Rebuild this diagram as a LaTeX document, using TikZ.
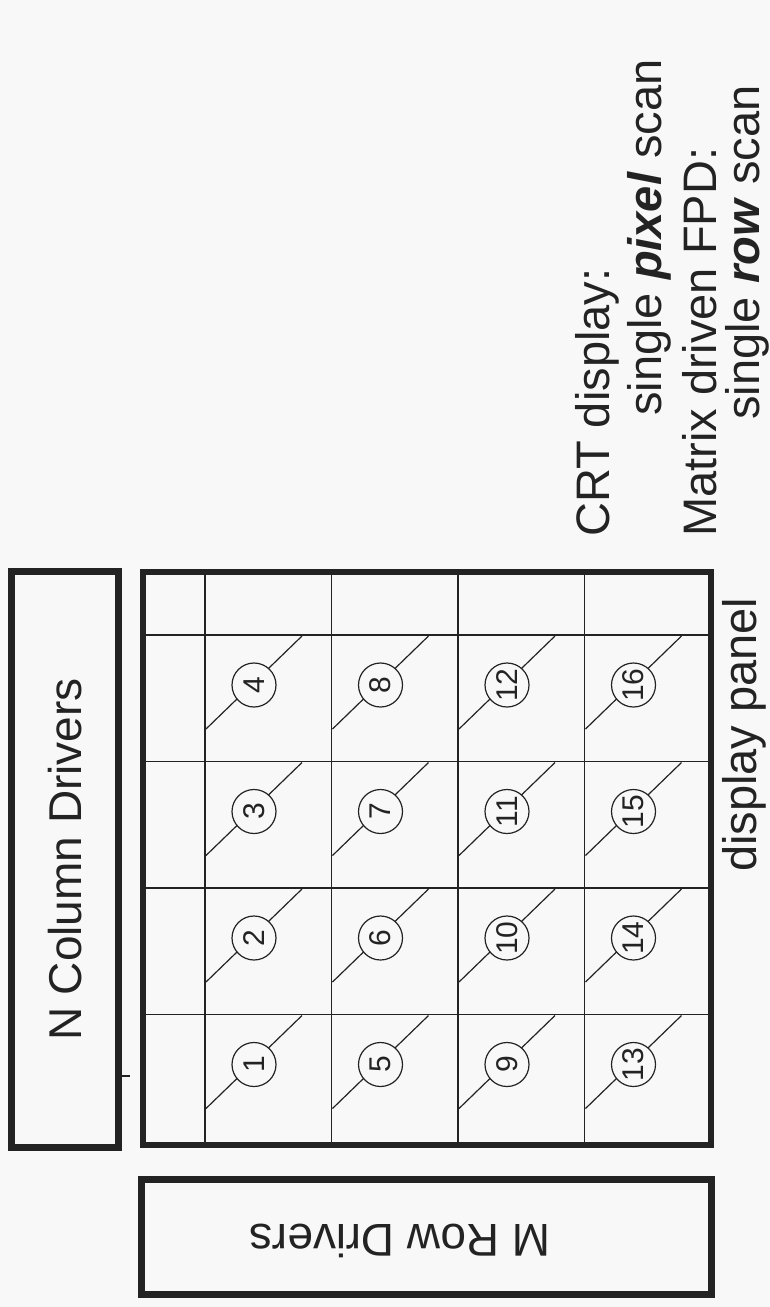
\documentclass[tikz,border=0pt]{standalone}
\usepackage{fontspec}
\setmainfont{Liberation Sans}
\definecolor{bg}{RGB}{248,248,249}
\definecolor{ink}{RGB}{35,35,35}
\begin{document}
\begin{tikzpicture}[x=1pt,y=-1pt,
  thickbox/.style={draw=ink,line width=6.8pt,inner sep=0pt},
  gridline/.style={draw=ink,line width=1.2pt},
  lbl/.style={font=\fontsize{46}{55}\selectfont,text=ink,inner sep=0pt},
  rlbl/.style={font=\fontsize{47}{56}\selectfont,text=ink,inner sep=0pt,rotate=90,anchor=base west},
  num/.style={circle,draw=ink,line width=1.2pt,fill=bg,minimum size=44pt,inner sep=0pt,font=\fontsize{30}{32}\selectfont,text=ink,rotate=90}
]
\fill[bg] (0,0) rectangle (770,1307);
\useasboundingbox (0,0) rectangle (770,1307);

% column drivers box
\node[thickbox,minimum width=107pt,minimum height=576pt] (coldrv) at (65,859.5) {};
\node[lbl,rotate=90] (coltxt) at (coldrv.center) {N Column Drivers};

% row drivers box
\node[thickbox,minimum width=570.5pt,minimum height=115.5pt] (rowdrv) at (426.5,1237) {};
\node[lbl,rotate=180] (rowtxt) at (400,1241) {M Row Drivers};

% panel grid
\foreach \gx in {205,331.5,458,584.5} {\draw[gridline] (\gx,572) -- (\gx,1145);}
\foreach \gy in {635,761.5,888,1014.5} {\draw[gridline] (143,\gy) -- (711,\gy);}

\foreach \c in {0,...,3} {
  \foreach \r in {0,...,3} {
    \pgfmathtruncatemacro{\n}{4*\c+4-\r}
    \coordinate (a\n) at (205+126.5*\c+1, 635+126.5*\r+94);
    \coordinate (b\n) at (205+126.5*\c+97, 635+126.5*\r+1);
    \draw[gridline] (a\n) -- (b\n);
    \node[num] (p\n) at (205+126.5*\c+49, 635+126.5*\r+50) {\n};
  }
}

\node[thickbox,minimum width=568pt,minimum height=573pt] (panel) at (427,858.5) {};

% small tick
\coordinate (t1) at (122,1076);
\coordinate (t2) at (130,1076);
\draw[gridline] (t1) -- (t2);

% right texts
\node[rlbl] (crt) at (609,537) {CRT display:};
\node[rlbl] (pix) at (661,416) {single \textbf{\textit{pixel}} scan};
\node[rlbl] (mat) at (716,537) {Matrix driven FPD:};
\node[rlbl] (row) at (759,420) {single \textbf{\textit{row}} scan};
\node[rlbl] (dp) at (756,872) {display panel};
\end{tikzpicture}
\end{document}
